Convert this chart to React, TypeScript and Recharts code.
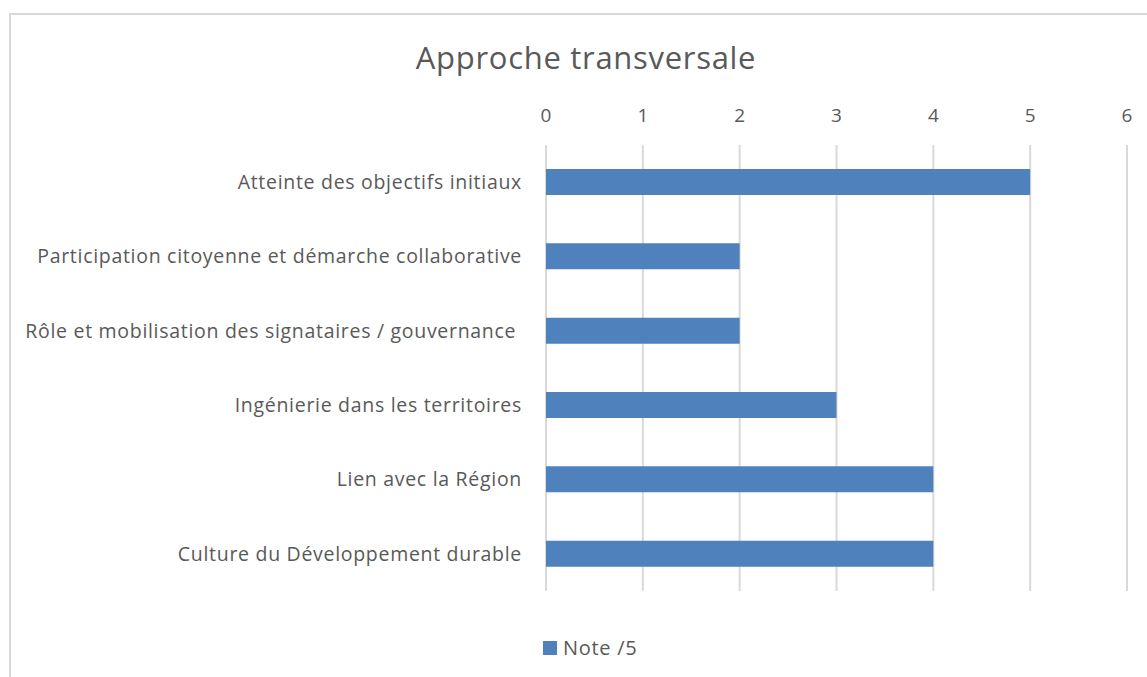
import React from 'react';
import {
  BarChart,
  Bar,
  XAxis,
  YAxis,
  CartesianGrid,
  Legend,
} from 'recharts';

const categories = [
  'Atteinte des objectifs initiaux',
  'Participation citoyenne et démarche collaborative',
  'Rôle et mobilisation des signataires / gouvernance\u00A0',
  'Ingénierie dans les territoires',
  'Lien avec la Région',
  'Culture du Développement durable',
];

const noteValues = [5, 2, 2, 3, 4, 4];

const xTicks = [0, 1, 2, 3, 4, 5, 6];

const data = categories.map((name, i) => ({ name, note: noteValues[i] }));

const TEXT_COLOR = '#595959';
const BAR_COLOR = '#4F81BD';
const FONT = '"Open Sans", sans-serif';

const LegendContent = () => (
  <div
    style={{
      display: 'flex',
      alignItems: 'center',
      fontFamily: FONT,
      fontSize: 20,
      letterSpacing: 0.7,
      color: TEXT_COLOR,
    }}
  >
    <span
      style={{
        display: 'inline-block',
        width: 14,
        height: 14,
        background: BAR_COLOR,
        marginRight: 6,
      }}
    />
    Note /5
  </div>
);

const App: React.FC = () => {
  return (
    <div
      style={{
        position: 'absolute',
        left: 0,
        top: 0,
        width: 1147,
        height: 677,
        overflow: 'hidden',
        background: '#fff',
      }}
    >
      <div
        style={{
          position: 'absolute',
          left: 9,
          top: 13,
          width: 1160,
          height: 700,
          border: '2px solid #d9d9d9',
        }}
      />
      <div
        style={{
          position: 'absolute',
          left: 0,
          width: 1172,
          top: 37,
          textAlign: 'center',
          fontFamily: FONT,
          fontSize: 31,
          letterSpacing: 0.7,
          lineHeight: '40px',
          color: TEXT_COLOR,
        }}
      >
        Approche transversale
      </div>
      <div style={{ position: 'absolute', left: 0, top: 0 }}>
        <BarChart
          width={1147}
          height={677}
          data={data}
          layout='vertical'
          margin={{ top: 105, right: 20, bottom: 59, left: 0 }}
          barCategoryGap={0}
        >
          <CartesianGrid horizontal={false} stroke='#d9d9d9' strokeWidth={2} />
          <XAxis
            type='number'
            orientation='top'
            domain={[0, 6]}
            ticks={xTicks}
            height={40}
            axisLine={false}
            tickLine={false}
            tickSize={0}
            tickMargin={23}
            tick={{ fontSize: 19, fill: TEXT_COLOR, fontFamily: FONT }}
          />
          <YAxis
            type='category'
            dataKey='name'
            width={546}
            axisLine={false}
            tickLine={false}
            tickSize={0}
            tickMargin={24}
            interval={0}
            tick={{
              fontSize: 19.5,
              fill: TEXT_COLOR,
              fontFamily: FONT,
              letterSpacing: 0.7,
            }}
          />
          <Legend
            content={<LegendContent />}
            wrapperStyle={{ left: 543, top: 634, width: 'auto' }}
          />
          <Bar
            dataKey='note'
            name='Note /5'
            fill={BAR_COLOR}
            barSize={26}
            isAnimationActive={false}
          />
        </BarChart>
      </div>
    </div>
  );
};

export default App;
